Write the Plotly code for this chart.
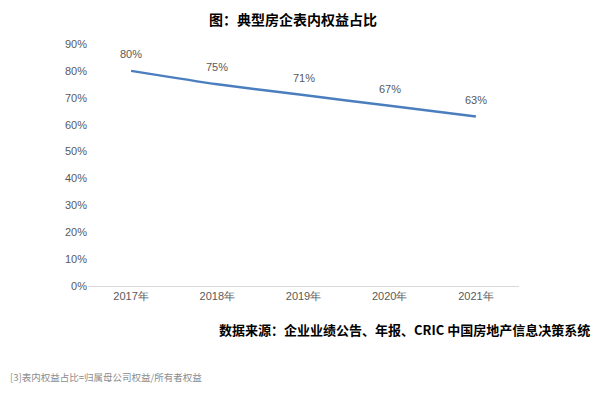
import plotly.graph_objects as go

years = ["2017年", "2018年", "2019年", "2020年", "2021年"]
ratio = [0.80, 0.75, 0.71, 0.67, 0.63]
labels = ["80%", "75%", "71%", "67%", "63%"]
ytickvals = [0, 0.1, 0.2, 0.3, 0.4, 0.5, 0.6, 0.7, 0.8, 0.9]

FONT = "Noto Sans CJK SC"
GRAY = "#595959"
OFF = 8  # default page body margin

fig = go.Figure()
fig.add_trace(go.Scatter(
    x=years, y=ratio, mode="lines",
    line=dict(color="#4a7ebf", width=2.5, shape="spline", smoothing=0.6),
    hoverinfo="skip",
))

annos = [
    dict(x=xv, y=yv, text=t, xref="x", yref="y", showarrow=False,
         yshift=17, font=dict(family="Liberation Sans, Arial", size=11, color=GRAY))
    for xv, yv, t in zip(years, ratio, labels)
]

L, R, T, B = 88, 519, 44, 286
W = R - L
H = B - T
annos += [
    dict(text="<b>图：典型房企表内权益占比</b>", xref="paper", yref="paper",
         x=(293 - L) / W, y=1 + (T - 19) / H, xanchor="center", yanchor="middle",
         showarrow=False, font=dict(family=FONT, size=14, color="#000000")),
    dict(text="<b>数据来源：企业业绩公告、年报、CRIC 中国房地产信息决策系统</b>",
         xref="paper", yref="paper",
         x=(592 - L) / W, y=-(329 - B) / H, xanchor="right", yanchor="middle",
         showarrow=False, font=dict(family=FONT, size=13, color="#000000")),
    dict(text="[3]表内权益占比=归属母公司权益/所有者权益",
         xref="paper", yref="paper",
         x=(8 - L) / W, y=-(377 - B) / H, xanchor="left", yanchor="middle",
         showarrow=False, font=dict(family=FONT, size=9.5, color="#8c8c8c")),
]

fig.update_layout(
    width=600 - 2 * OFF, height=393 - 2 * OFF,
    margin=dict(l=L - OFF, r=600 - OFF - R, t=T - OFF, b=393 - OFF - B, pad=0),
    paper_bgcolor="white", plot_bgcolor="white",
    showlegend=False,
    xaxis=dict(
        type="category", range=[-0.5, 4.5],
        showgrid=False, showline=True, linecolor="#d9d9d9", linewidth=1,
        ticks="", tickfont=dict(family="Liberation Sans, Arial", size=11, color=GRAY),
        zeroline=False, fixedrange=True,
    ),
    yaxis=dict(
        range=[0, 0.9], tickvals=ytickvals, tickformat=".0%",
        showgrid=False, showline=False, zeroline=False, ticks="",
        tickfont=dict(family="Liberation Sans, Arial", size=11, color=GRAY),
        fixedrange=True,
    ),
    annotations=annos,
)

fig.write_html("out.html")
